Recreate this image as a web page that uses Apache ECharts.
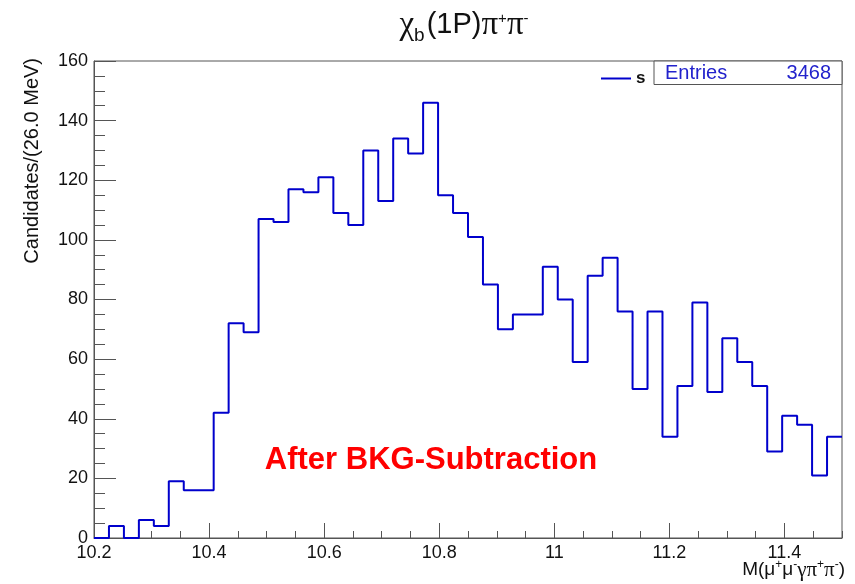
<!DOCTYPE html>
<html>
<head>
<meta charset="utf-8">
<script src="https://cdn.jsdelivr.net/npm/echarts@6/dist/echarts.min.js"></script>
<style>
  html, body { margin: 0; padding: 0; background: #fff; }
  #chart { width: 855px; height: 584px; }
</style>
</head>
<body>
<div id="chart"></div>
<script>
// histogram: 50 bins of 26 MeV from 10.2 GeV
let binLow = 10.2;
let binWidth = 0.026;
let counts = [
  0, 4, 0, 6, 4, 19, 16, 16, 42, 72,
  69, 107, 106, 117, 116, 121, 109, 105, 130, 113,
  134, 129, 146, 115, 109, 101, 85, 70, 75, 75,
  91, 80, 59, 88, 94, 76, 50, 76, 34, 51,
  79, 49, 67, 59, 51, 29, 41, 38, 21, 34,
];
let xRange = [10.2, 11.5];
let yRange = [0, 160];
let entries = 3468;

let myChart = echarts.init(document.getElementById("chart"));

// step line needs the left edge of every bin plus the last right edge
let stepData = counts.map((c, i) => [+(binLow + i * binWidth).toFixed(3), c]);
stepData.push([xRange[1], counts[counts.length - 1]]);

let axisColor = "#555";
let labelFont = "Liberation Sans";

let option = {
  backgroundColor: "#fff",
  animation: false,
  grid: {
    show: true,
    left: 94,
    right: 13,
    top: 61,
    bottom: 46,
    borderColor: axisColor,
    borderWidth: 1,
  },
  legend: {
    data: [{ name: "s", icon: "rect" }],
    left: 596,
    top: 65,
    itemWidth: 30,
    itemHeight: 2,
    textStyle: {
      fontFamily: labelFont,
      fontWeight: "bold",
      fontSize: 17,
      color: "#111",
    },
  },
  xAxis: [
    {
      type: "value",
      min: xRange[0],
      max: xRange[1],
      interval: 0.2,
      splitLine: { show: false },
      axisLine: { lineStyle: { color: axisColor } },
      axisTick: {
        inside: true,
        length: 15,
        lineStyle: { color: axisColor },
      },
      axisLabel: {
        fontFamily: labelFont,
        fontSize: 18,
        color: "#111",
        margin: 6,
        showMaxLabel: false,
      },
    },
    {
      // minor ticks every 50 MeV
      type: "value",
      position: "bottom",
      min: xRange[0],
      max: xRange[1],
      interval: 0.05,
      splitLine: { show: false },
      axisLine: { show: false },
      axisTick: {
        inside: true,
        length: 7,
        lineStyle: { color: axisColor },
      },
      axisLabel: { show: false },
    },
  ],
  yAxis: {
    type: "value",
    min: yRange[0],
    max: yRange[1],
    interval: 20,
    splitLine: { show: false },
    axisLine: { show: true, lineStyle: { color: axisColor } },
    axisTick: {
      show: true,
      inside: true,
      length: 22,
      lineStyle: { color: axisColor },
    },
    minorTick: {
      show: true,
      splitNumber: 4,
      length: 11,
      lineStyle: { color: axisColor },
    },
    axisLabel: {
      fontFamily: labelFont,
      fontSize: 18,
      color: "#111",
      margin: 6,
    },
  },
  graphic: [
    {
      type: "text",
      x: 464,
      y: 25,
      style: {
        text: "{g|χ}{sub|b}{m|(1P)}{g|π}{sup|+}{g|π}{sup|-}",
        align: "center",
        verticalAlign: "middle",
        rich: {
          m: { fontFamily: labelFont, fontSize: 29, fill: "#111", lineHeight: 40 },
          g: { fontFamily: "Liberation Serif", fontSize: 33, fill: "#111", lineHeight: 40 },
          sub: { fontFamily: labelFont, fontSize: 19, fill: "#111", lineHeight: 40, verticalAlign: "bottom", padding: [14, 2, 0, 0] },
          sup: { fontFamily: labelFont, fontSize: 15, fill: "#111", lineHeight: 16, verticalAlign: "middle", padding: [0, 0, 12, 0] },
        },
      },
    },
    {
      type: "text",
      x: 32,
      y: 58,
      rotation: Math.PI / 2,
      style: {
        text: "Candidates/(26.0 MeV)",
        fontFamily: labelFont,
        fontSize: 20,
        fill: "#111",
        align: "right",
        verticalAlign: "middle",
      },
    },
    {
      type: "text",
      x: 845,
      y: 570,
      style: {
        text: "{m|M(μ}{sup|+}{m|μ}{sup|-}{g|γπ}{sup|+}{g|π}{sup|-}{m|)}",
        align: "right",
        verticalAlign: "middle",
        rich: {
          m: { fontFamily: labelFont, fontSize: 19, fill: "#111", lineHeight: 26 },
          g: { fontFamily: "Liberation Serif", fontSize: 21, fill: "#111", lineHeight: 26 },
          sup: { fontFamily: labelFont, fontSize: 12, fill: "#111", lineHeight: 13, verticalAlign: "middle", padding: [0, 0, 10, 0] },
        },
      },
    },
    {
      type: "rect",
      shape: { x: 654, y: 61, width: 188, height: 23.5 },
      style: { fill: "#fff", stroke: axisColor, lineWidth: 1 },
      z: 10,
    },
    {
      type: "text",
      x: 665,
      y: 73,
      z: 11,
      style: {
        text: "Entries",
        fontFamily: labelFont,
        fontSize: 20,
        fill: "#2222cc",
        verticalAlign: "middle",
      },
    },
    {
      type: "text",
      x: 831,
      y: 73,
      z: 11,
      style: {
        text: String(entries),
        fontFamily: labelFont,
        fontSize: 20,
        fill: "#2222cc",
        align: "right",
        verticalAlign: "middle",
      },
    },
    {
      type: "text",
      x: 431,
      y: 460,
      style: {
        text: "After BKG-Subtraction",
        fontFamily: labelFont,
        fontWeight: "bold",
        fontSize: 31,
        fill: "#ff0000",
        align: "center",
        verticalAlign: "middle",
      },
    },
  ],
  series: [
    {
      name: "s",
      type: "line",
      step: "end",
      xAxisIndex: 0,
      data: stepData,
      symbol: "none",
      itemStyle: { color: "#0000cc" },
      lineStyle: { color: "#0000cc", width: 2 },
    },
  ],
};
myChart.setOption(option);
</script>
</body>
</html>
